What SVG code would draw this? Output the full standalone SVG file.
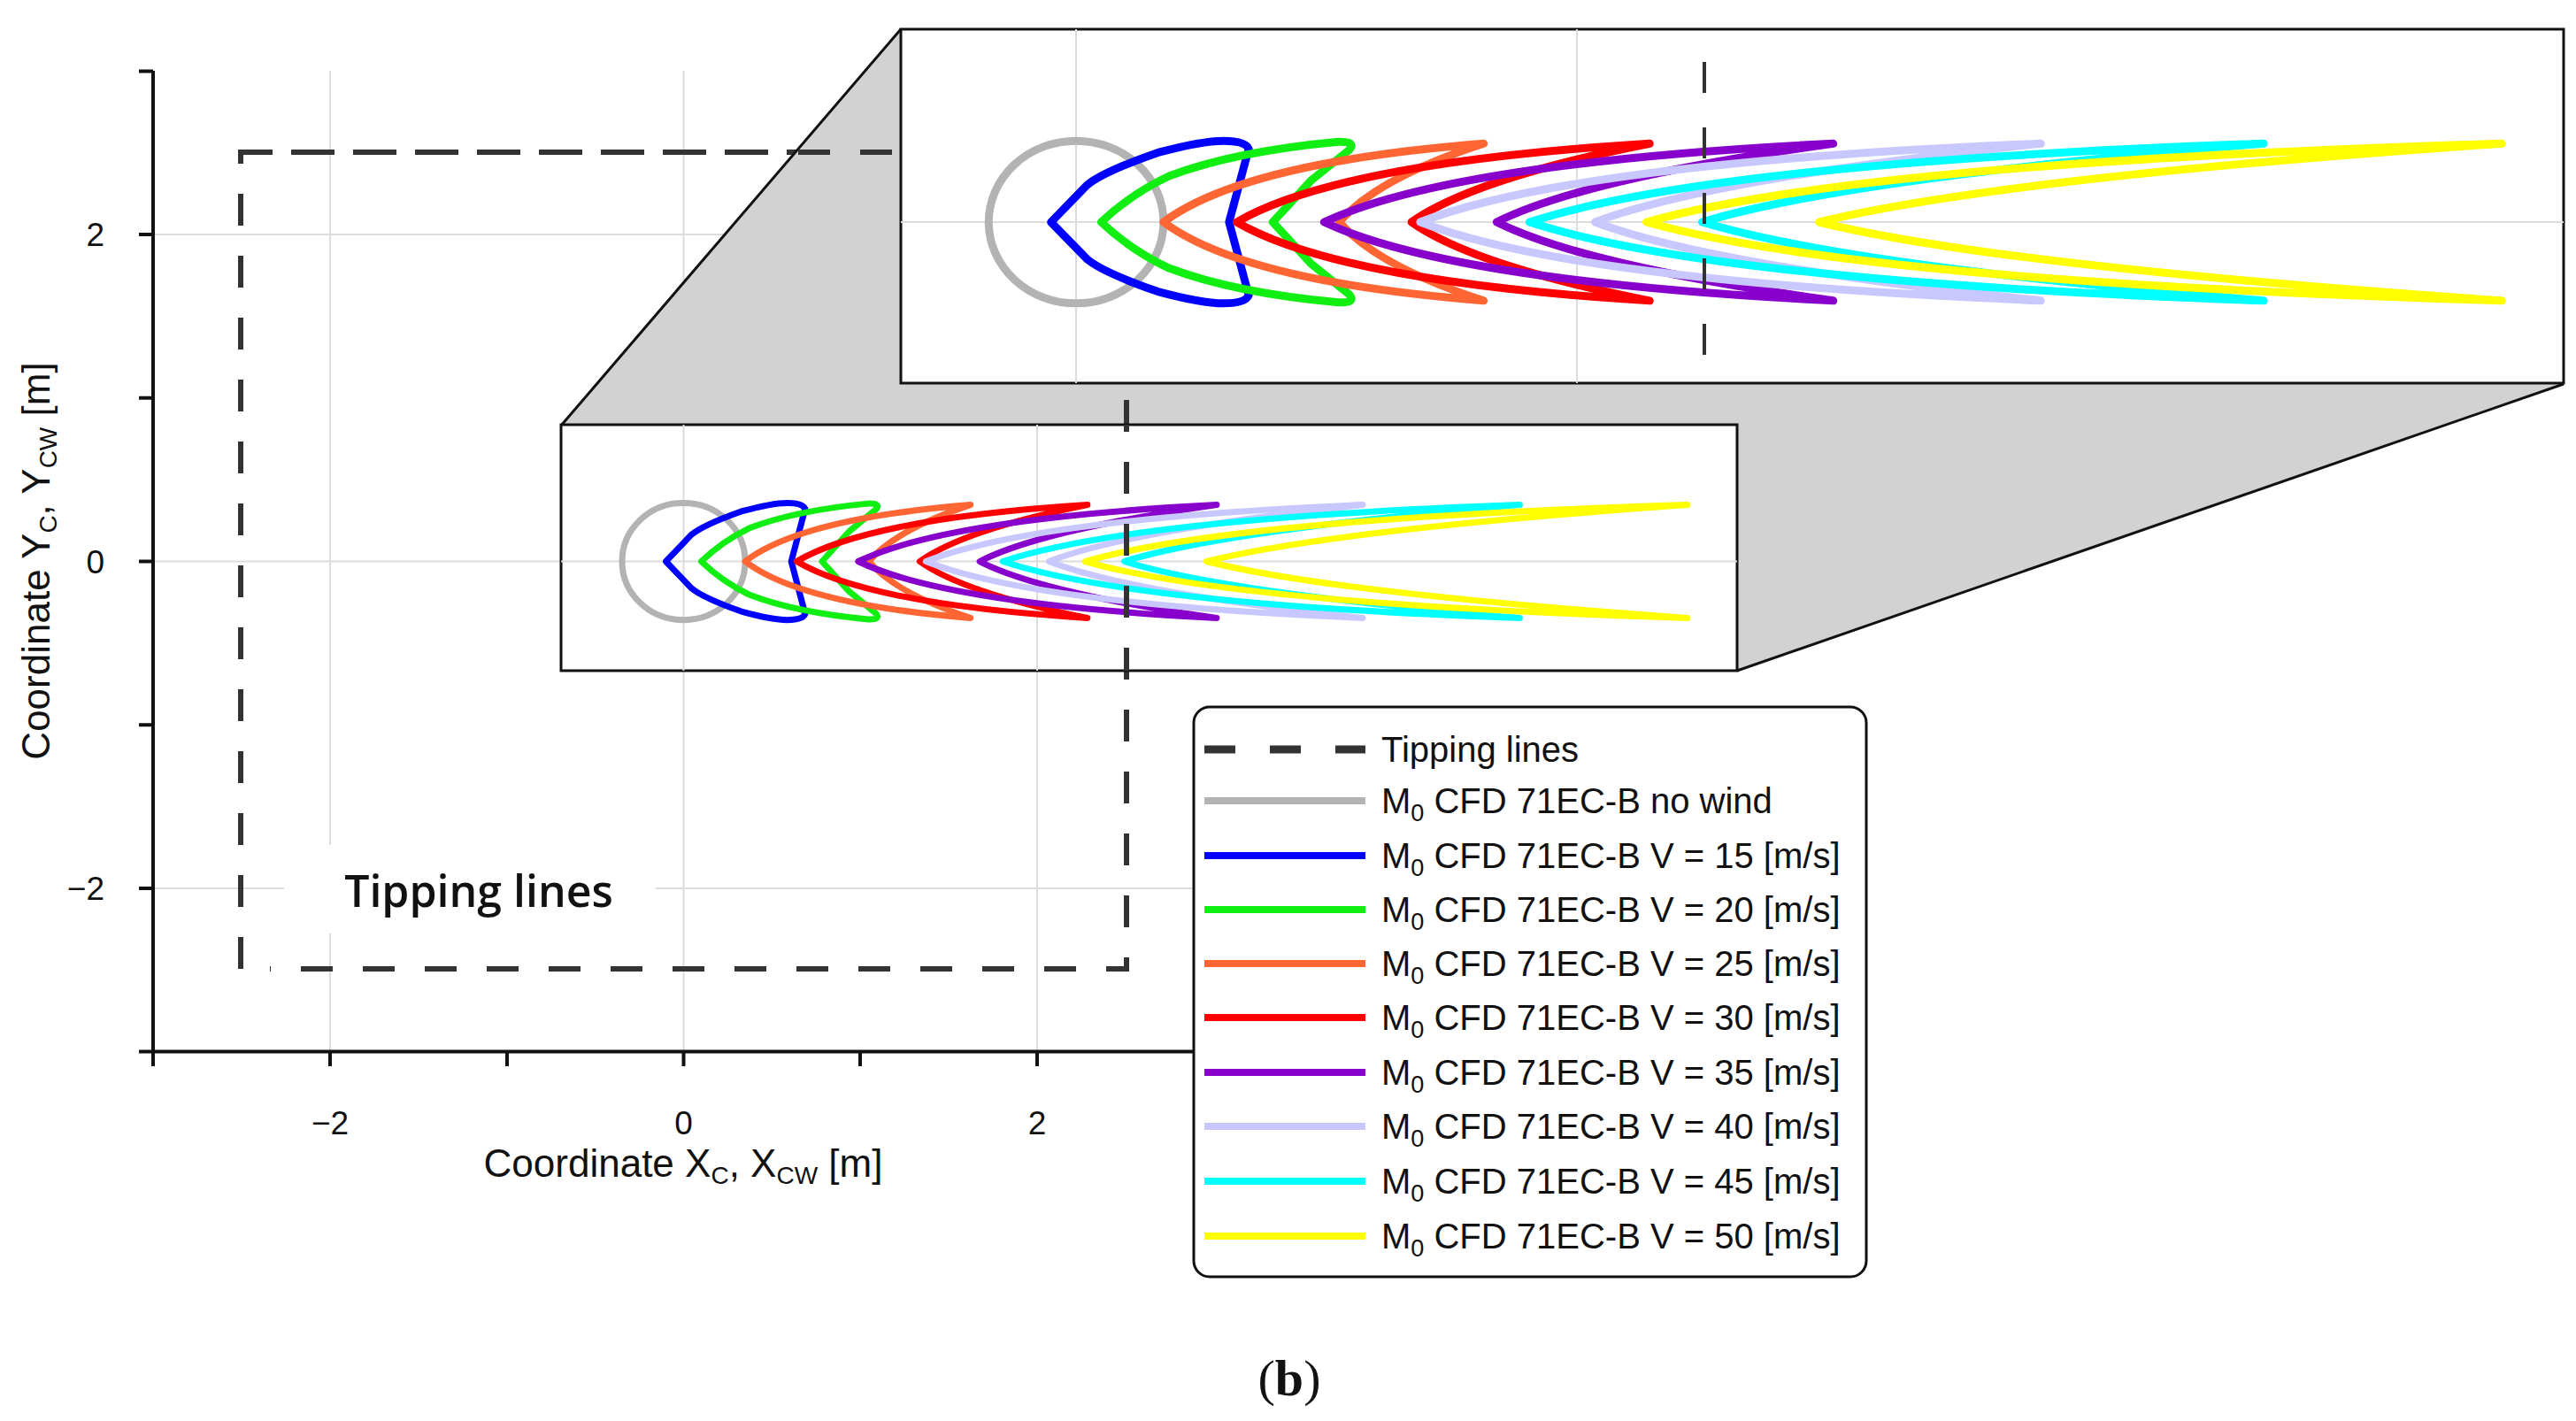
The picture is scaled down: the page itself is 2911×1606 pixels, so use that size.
<svg xmlns="http://www.w3.org/2000/svg" xmlns:xlink="http://www.w3.org/1999/xlink" width="2911" height="1606" viewBox="0 0 2911 1606">
<style>
text{font-family:"Liberation Sans",Arial,sans-serif;fill:#111}
.grid{stroke:#dcdcdc;stroke-width:2;fill:none}
.ax{stroke:#111;stroke-width:4;fill:none}
.tip{stroke:#333;stroke-width:6;fill:none;stroke-dasharray:36 34}
.box{fill:#fff;stroke:#111;stroke-width:3}
.s path,.s ellipse{fill:none;vector-effect:non-scaling-stroke;stroke-linejoin:round;stroke-linecap:round}
.lg{stroke-width:8;fill:none}
.lt{font-size:40px}
</style>
<defs>
<clipPath id="cu"><rect x="1018" y="33" width="1879" height="400"/></clipPath>
<clipPath id="cl"><rect x="634" y="480" width="1329" height="278"/></clipPath>
<g id="shapes" class="s">
<ellipse cx="175" cy="492" rx="80" ry="180" stroke="#b3b3b3"/>
<path stroke="#0000ff" d="M315,492 L333,330 Q330,312 310,312 Q290,312 250,338 Q200,380 185,410 L152,492 L185,574 Q200,604 250,646 Q290,672 310,672 Q330,672 333,654 Z"/>
<path stroke="#11ee11" d="M198,492 Q225,430 260,390 Q320,335 415,314 Q432,313 425,332 L390,400 L355,492 L390,584 L425,652 Q432,671 415,670 Q320,649 260,594 Q225,554 198,492 Z"/>
<path stroke="#ff6633" d="M255,492 Q328,360 548,318 Q450,395 416,492 Q450,589 548,666 Q328,624 255,492Z"/>
<path stroke="#ff0000" d="M322,492 Q416,360 700,318 Q539,395 482,492 Q539,589 700,666 Q416,624 322,492Z"/>
<path stroke="#8800cc" d="M402,492 Q518,360 868,318 Q640,395 560,492 Q640,589 868,666 Q518,624 402,492Z"/>
<path stroke="#c8c8ff" d="M490,492 Q632,360 1058,318 Q756,395 650,492 Q756,589 1058,666 Q632,624 490,492Z"/>
<path stroke="#00ffff" d="M590,492 Q758,360 1262,318 Q881,395 748,492 Q881,589 1262,666 Q758,624 590,492Z"/>
<path stroke="#ffff00" d="M697,492 Q893,360 1480,318 Q1018,395 855,492 Q1018,589 1480,666 Q893,624 697,492Z"/>
</g>
</defs>

<g id="grid">
<path class="grid" d="M373,80V1188M772.5,80V1188M1172,80V1188M173,265H1372M173,634.5H1372M173,1004H1372"/>
</g>
<g id="axes">
<path class="ax" d="M173,80V1188.6H1372"/>
<path class="ax" d="M157,80.4H173M157,265.1H173M157,449.8H173M157,634.5H173M157,819.2H173M157,1003.9H173M157,1188.6H173M173,1188.6V1205M373,1188.6V1205M573,1188.6V1205M772.5,1188.6V1205M972,1188.6V1205M1172,1188.6V1205"/>
<text x="118" y="278" font-size="37" text-anchor="end">2</text>
<text x="118" y="648" font-size="37" text-anchor="end">0</text>
<text x="118" y="1017" font-size="37" text-anchor="end">−2</text>
<text x="373" y="1282" font-size="37" text-anchor="middle">−2</text>
<text x="772.5" y="1282" font-size="37" text-anchor="middle">0</text>
<text x="1172" y="1282" font-size="37" text-anchor="middle">2</text>
<text x="772" y="1330" font-size="44" text-anchor="middle">Coordinate X<tspan font-size="28" dy="8">C</tspan><tspan dy="-8">, X</tspan><tspan font-size="28" dy="8">CW</tspan><tspan dy="-8"> [m]</tspan></text>
<text transform="translate(56,634) rotate(-90)" font-size="44" text-anchor="middle">Coordinate Y<tspan font-size="28" dy="8">C</tspan><tspan dy="-8">, Y</tspan><tspan font-size="28" dy="8">CW</tspan><tspan dy="-8"> [m]</tspan></text>
</g>

<g id="tipping-lines">
<rect x="321" y="955" width="420" height="100" fill="#fff"/>
<path class="tip" d="M272,1095V172H1018M1273,172V1095H305"/>
<text x="541" y="1025" font-size="50" font-weight="600" text-anchor="middle" style="font-family:'Open Sans','Noto Sans',sans-serif">Tipping lines</text>
</g>

<g id="zoom-connector">
<polygon points="634,481 1018,33 2897,33 2897,434 1963,758 634,758" fill="#d2d2d2" stroke="none"/>
<path d="M634,481L1018,33M1963,758L2897,434" stroke="#111" stroke-width="3" fill="none"/>
<path class="tip" d="M272,172H1018"/>
<path class="tip" d="M1273,172V1095"/>
</g>

<g id="inset-lower">
<rect class="box" x="634" y="480" width="1329" height="278"/>
<g clip-path="url(#cl)">
<path class="grid" d="M772.5,480V758M1172,480V758M634,634.5H1963"/>
<use xlink:href="#shapes" transform="matrix(0.8692,0,0,0.3673,620.4,453.8)" stroke-width="7"/>
<path class="tip" d="M1273,172V1095"/>
</g>
</g>

<g id="inset-upper">
<rect class="box" x="1018" y="33" width="1879" height="400"/>
<g clip-path="url(#cu)">
<path class="grid" d="M1216,33V433M1782,33V433M1018,251H2897"/>
<use xlink:href="#shapes" transform="matrix(1.2346,0,0,0.5102,1000,0)" stroke-width="9"/>
<path d="M1926,70V402" stroke="#333" stroke-width="4" stroke-dasharray="35 39" fill="none"/>
</g>
</g>

<g id="legend">
<rect x="1349" y="799" width="760" height="644" rx="18" fill="#fff" stroke="#111" stroke-width="3"/>
<path d="M1361,847H1543" stroke="#333" stroke-width="9" stroke-dasharray="35 39" fill="none"/>
<text class="lt" x="1561" y="861">Tipping lines</text>
<path class="lg" stroke="#b3b3b3" d="M1361,905H1543"/>
<text class="lt" x="1561" y="919">M<tspan font-size="27" dy="9">0</tspan><tspan dy="-9"> CFD 71EC-B no wind</tspan></text>
<path class="lg" stroke="#0000ff" d="M1361,967H1543"/>
<text class="lt" x="1561" y="981">M<tspan font-size="27" dy="9">0</tspan><tspan dy="-9"> CFD 71EC-B V = 15 [m/s]</tspan></text>
<path class="lg" stroke="#11ee11" d="M1361,1028H1543"/>
<text class="lt" x="1561" y="1042">M<tspan font-size="27" dy="9">0</tspan><tspan dy="-9"> CFD 71EC-B V = 20 [m/s]</tspan></text>
<path class="lg" stroke="#ff6633" d="M1361,1089H1543"/>
<text class="lt" x="1561" y="1103">M<tspan font-size="27" dy="9">0</tspan><tspan dy="-9"> CFD 71EC-B V = 25 [m/s]</tspan></text>
<path class="lg" stroke="#ff0000" d="M1361,1150H1543"/>
<text class="lt" x="1561" y="1164">M<tspan font-size="27" dy="9">0</tspan><tspan dy="-9"> CFD 71EC-B V = 30 [m/s]</tspan></text>
<path class="lg" stroke="#8800cc" d="M1361,1212H1543"/>
<text class="lt" x="1561" y="1226">M<tspan font-size="27" dy="9">0</tspan><tspan dy="-9"> CFD 71EC-B V = 35 [m/s]</tspan></text>
<path class="lg" stroke="#c8c8ff" d="M1361,1273H1543"/>
<text class="lt" x="1561" y="1287">M<tspan font-size="27" dy="9">0</tspan><tspan dy="-9"> CFD 71EC-B V = 40 [m/s]</tspan></text>
<path class="lg" stroke="#00ffff" d="M1361,1335H1543"/>
<text class="lt" x="1561" y="1349">M<tspan font-size="27" dy="9">0</tspan><tspan dy="-9"> CFD 71EC-B V = 45 [m/s]</tspan></text>
<path class="lg" stroke="#ffff00" d="M1361,1397H1543"/>
<text class="lt" x="1561" y="1411">M<tspan font-size="27" dy="9">0</tspan><tspan dy="-9"> CFD 71EC-B V = 50 [m/s]</tspan></text>
</g>

<text x="1457" y="1577" font-size="58" text-anchor="middle" style="font-family:'Liberation Serif','Times New Roman',serif">(<tspan font-weight="bold">b</tspan>)</text>
</svg>
